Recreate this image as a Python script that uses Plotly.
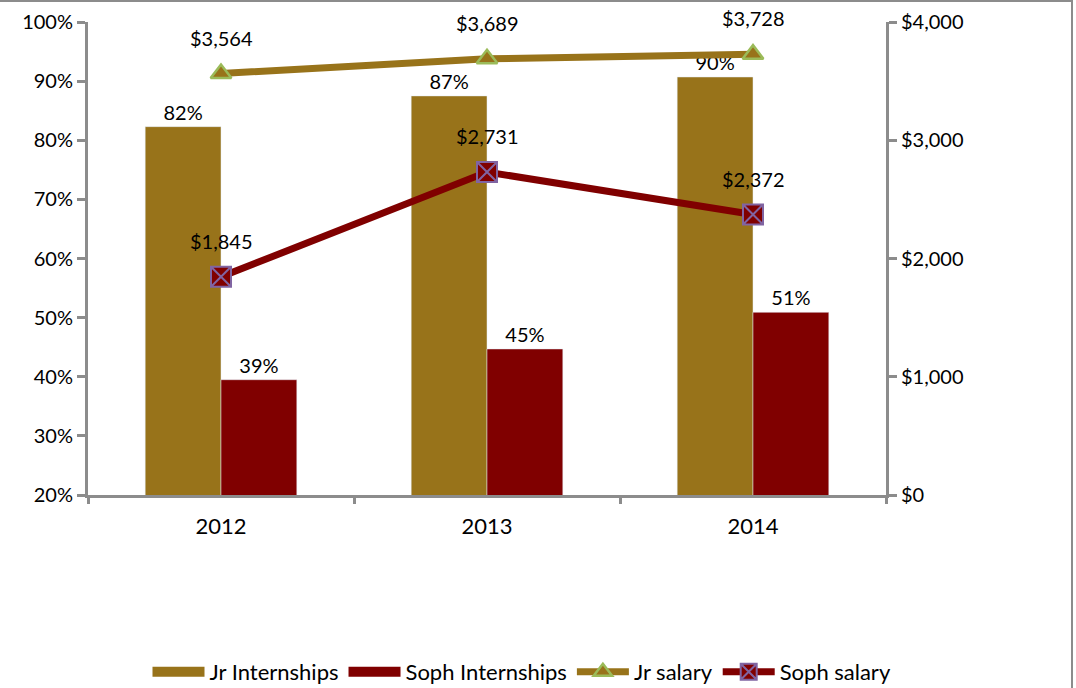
import plotly.graph_objects as go

years = ["2012", "2013", "2014"]
jr_intern = [82.3, 87.5, 90.7]
soph_intern = [39.5, 44.7, 50.9]
jr_intern_labels = ["82%", "87%", "90%"]
soph_intern_labels = ["39%", "45%", "51%"]
jr_salary = [3564, 3689, 3728]
soph_salary = [1845, 2731, 2372]

GOLD = "#98731A"
MAROON = "#800000"
GRAY = "#8C8C8C"
FONT = "Lato"

W, H = 1076, 688
L, R, T, B = 88, 190, 22, 193
PW, PH = W - L - R, H - T - B

fig = go.Figure()
fig.add_trace(go.Bar(x=years, y=jr_intern, name="Jr Internships", marker_color=GOLD,
                     text=jr_intern_labels, textposition="outside", cliponaxis=False,
                     textfont=dict(size=20, color="black", family=FONT), showlegend=False))
fig.add_trace(go.Bar(x=years, y=soph_intern, name="Soph Internships", marker_color=MAROON,
                     text=soph_intern_labels, textposition="outside", cliponaxis=False,
                     textfont=dict(size=20, color="black", family=FONT), showlegend=False))
fig.add_trace(go.Scatter(x=years, y=jr_salary, name="Jr salary", yaxis="y2", mode="lines+markers",
                         line=dict(color=GOLD, width=7),
                         marker=dict(symbol="triangle-up", size=18, color=GOLD,
                                     line=dict(color="#9BBB59", width=2.5)),
                         cliponaxis=False, legendrank=3))
fig.add_trace(go.Scatter(x=years, y=soph_salary, name="Soph salary", yaxis="y2", mode="lines+markers",
                         line=dict(color=MAROON, width=7),
                         marker=dict(symbol="square-x", size=20, color=MAROON,
                                     line=dict(color="#8064A2", width=2)),
                         cliponaxis=False, legendrank=4))
# legend swatches for the bar series (wide rectangles as in the reference)
fig.add_trace(go.Scatter(x=[None], y=[None], mode="lines", name="Jr Internships",
                         line=dict(color=GOLD, width=16), legendrank=1, hoverinfo="skip"))
fig.add_trace(go.Scatter(x=[None], y=[None], mode="lines", name="Soph Internships",
                         line=dict(color=MAROON, width=16), legendrank=2, hoverinfo="skip"))

for series in (jr_salary, soph_salary):
    for i, v in enumerate(series):
        fig.add_annotation(x=i, y=v, xref="x", yref="y2", text="${:,}".format(v), showarrow=False,
                           yshift=36, font=dict(size=20, color="black", family=FONT))

fig.update_layout(
    width=W, height=H,
    margin=dict(l=L, r=R, t=T, b=B, autoexpand=False),
    paper_bgcolor="white", plot_bgcolor="white",
    barmode="group", bargap=0.43, bargroupgap=0,
    font=dict(family=FONT, size=20, color="black"),
    xaxis=dict(type="category", range=[-0.5, 2.5], showline=True, linecolor=GRAY, linewidth=3,
               ticks="", ticklabelstandoff=10, tickfont=dict(size=22), showgrid=False,
               automargin=False),
    xaxis2=dict(overlaying="x", anchor="y", side="bottom", range=[-0.5, 2.5], tickmode="array",
                tickvals=[-0.5, 0.5, 1.5, 2.5], showticklabels=False, ticks="outside",
                ticklen=8, tickwidth=3, tickcolor=GRAY, showgrid=False, zeroline=False,
                showline=False),
    yaxis=dict(range=[20, 100], dtick=10, ticksuffix="%", showline=True, linecolor=GRAY, linewidth=3,
               ticks="outside", ticklen=8, tickwidth=3, tickcolor=GRAY, showgrid=False,
               zeroline=False, tickfont=dict(size=20), automargin=False),
    yaxis2=dict(range=[0, 4000], dtick=1000, tickprefix="$", tickformat=",", overlaying="y",
                side="right", showline=True, linecolor=GRAY, linewidth=3, ticks="outside",
                ticklen=8, tickwidth=3, tickcolor=GRAY, showgrid=False, zeroline=False,
                tickfont=dict(size=20), automargin=False),
    legend=dict(orientation="h", x=(522 - L) / PW, xanchor="center", y=-(672 - (H - B)) / PH,
                yanchor="middle", font=dict(size=22), traceorder="normal",
                bgcolor="rgba(0,0,0,0)", itemwidth=52),
    shapes=[dict(type="rect", xref="paper", yref="paper",
                 x0=(-10 - L) / PW, x1=(1072 - L) / PW,
                 y0=-(700 - (H - B)) / PH, y1=(H - B - 1) / PH,
                 line=dict(color=GRAY, width=2), fillcolor="rgba(0,0,0,0)", layer="above")],
)
# invisible trace to activate the boundary ticks on xaxis2
fig.add_trace(go.Scatter(x=[-0.5, 2.5], y=[20, 20], xaxis="x2", yaxis="y", mode="markers",
                         marker=dict(opacity=0), showlegend=False, hoverinfo="skip"))

fig.write_html("out.html", config={"displayModeBar": False},
               post_script="document.body.style.margin='0';")
